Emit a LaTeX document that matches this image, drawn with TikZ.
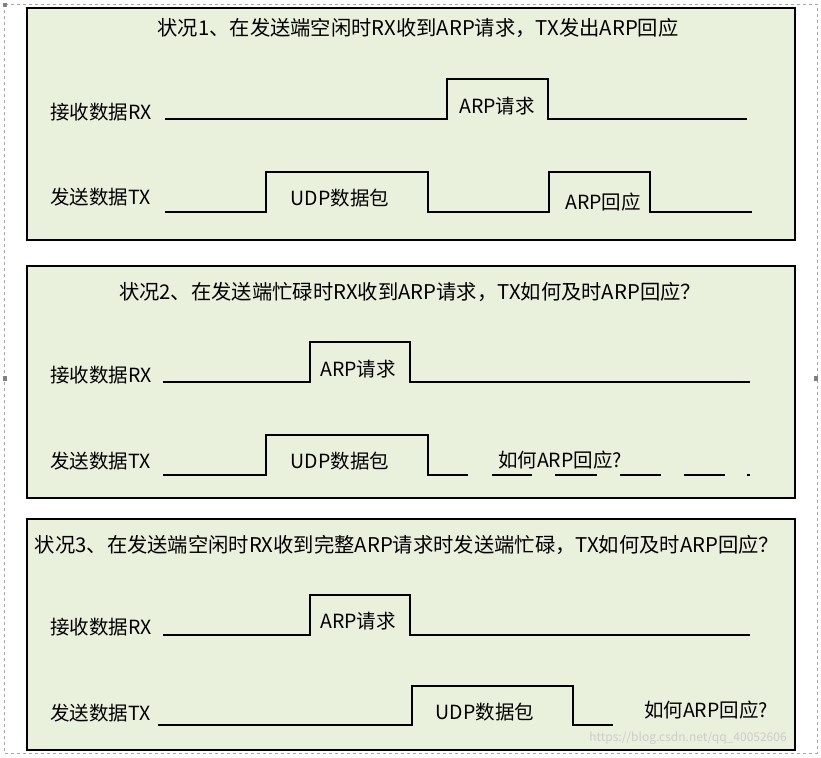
\documentclass[tikz,border=0pt]{standalone}
\usepackage{fontspec}
\setmainfont{Noto Sans CJK SC}
\begin{document}
\begin{tikzpicture}[x=1pt,y=-1pt,
 panel/.style={draw=black,line width=2pt,fill={rgb,255:red,233;green,240;blue,220}},
 sig/.style={line width=1.6pt,line join=miter},
 lbl/.style={font=\fontsize{19.5}{19.5}\selectfont,anchor=west,inner sep=0},
 txt/.style={font=\fontsize{19.5}{19.5}\selectfont,inner sep=0},
 ttl/.style={font=\fontsize{20.3}{20.3}\selectfont,inner sep=0}]
\useasboundingbox (0,0) rectangle (821,757);
\draw[gray!70,dashed] (4,4) rectangle (817,753);
\fill[gray] (3,3) rectangle (7,7);
\fill[gray] (3,376) rectangle (7,381);
\fill[gray] (814,376) rectangle (818,381);
% panel 1
\draw[panel] (27,8) rectangle (795,240);
\node[ttl] (t1) at (418,28) {状况1、在发送端空闲时RX收到ARP请求，TX发出ARP回应};
\node[lbl] (r1) at (50,112) {接收数据RX};
\node[lbl] (x1) at (50,197) {发送数据TX};
\draw[sig] (165,119) -- (447,119) -- (447,79) -- (548,79) -- (548,119) -- (747,119);
\node[txt] (a1) at (497,106) {ARP请求};
\draw[sig] (165,212) -- (266,212) -- (266,172) -- (428,172) -- (428,212) -- (549,212) -- (549,172) -- (650,172) -- (650,212) -- (752,212);
\node[txt] (u1) at (340,198) {UDP数据包};
\node[txt] (p1) at (603,202) {ARP回应};
% panel 2
\draw[panel] (27,266) rectangle (795,498);
\node[ttl] (t2) at (410,292) {状况2、在发送端忙碌时RX收到ARP请求，TX如何及时ARP回应？};
\node[lbl] (r2) at (50,375) {接收数据RX};
\node[lbl] (x2) at (50,461) {发送数据TX};
\draw[sig] (163,382) -- (310,382) -- (310,342) -- (410,342) -- (410,382) -- (750,382);
\node[txt] (a2) at (358,369) {ARP请求};
\draw[sig] (163,475) -- (266,475) -- (266,435) -- (428,435) -- (428,475) -- (468,475);
\foreach \a/\b in {492/532,555/597,620/661,684/725,747/750} \draw[sig] (\a,475) -- (\b,475);
\node[txt] (u2) at (340,461) {UDP数据包};
\node[txt] (q2) at (560,460) {如何ARP回应?};
% panel 3
\draw[panel] (27,519) rectangle (795,750);
\node[ttl] (t3) at (407,545) {状况3、在发送端空闲时RX收到完整ARP请求时发送端忙碌，TX如何及时ARP回应？};
\node[lbl] (r3) at (50,627) {接收数据RX};
\node[lbl] (x3) at (50,713) {发送数据TX};
\draw[sig] (163,635) -- (310,635) -- (310,595) -- (410,595) -- (410,635) -- (750,635);
\node[txt] (a3) at (358,621) {ARP请求};
\draw[sig] (158,725) -- (412,725) -- (412,686) -- (573,686) -- (573,725) -- (613,725);
\node[txt] (u3) at (485,712) {UDP数据包};
\node[txt] (q3) at (706,710) {如何ARP回应?};
\node[font=\fontsize{12}{12}\selectfont,text=gray!40,inner sep=0] (wm) at (688,738) {https://blog.csdn.net/qq\_40052606};
\end{tikzpicture}
\end{document}
